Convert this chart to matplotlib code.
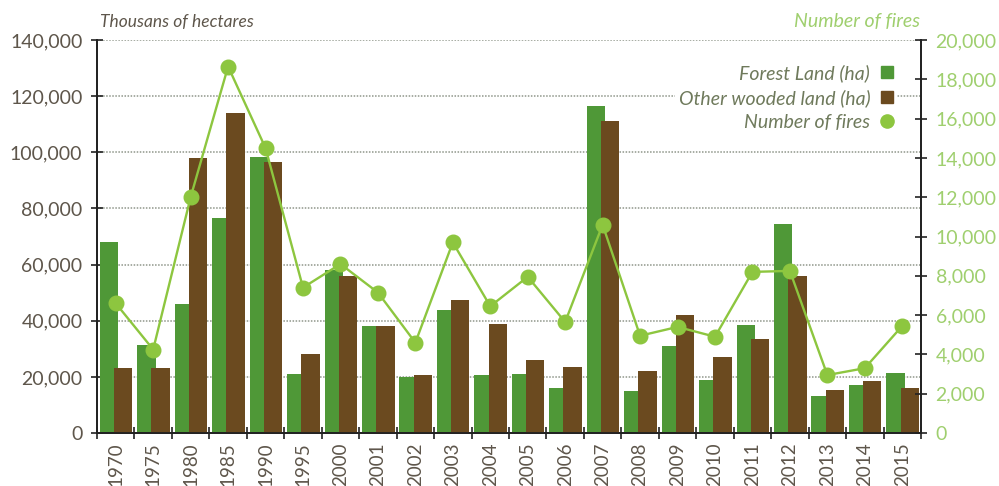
import numpy as np
import matplotlib
matplotlib.use("Agg")
import matplotlib.pyplot as plt
from matplotlib.lines import Line2D
from matplotlib.ticker import FuncFormatter, FixedLocator

plt.rcParams['font.family'] = ['Lato', 'DejaVu Sans']

years = ["1970", "1975", "1980", "1985", "1990", "1995", "2000", "2001", "2002",
         "2003", "2004", "2005", "2006", "2007", "2008", "2009", "2010", "2011",
         "2012", "2013", "2014", "2015"]
forest_land = [68000, 31500, 46000, 76500, 98500, 21000, 58000, 38000, 20000,
               44000, 20800, 21000, 16000, 116500, 15000, 31000, 19000, 38500,
               74500, 13300, 17100, 21500]
other_wooded = [23000, 23000, 98000, 114000, 96500, 28000, 56000, 38000, 20500,
                47500, 39000, 26000, 23400, 111000, 22000, 42000, 27000, 33500,
                56000, 15500, 18500, 16000]
num_fires = [6600, 4250, 12000, 18650, 14500, 7400, 8600, 7150, 4600,
             9700, 6450, 7950, 5650, 10600, 4950, 5400, 4900, 8200,
             8250, 2950, 3300, 5450]

GREEN = "#4f9837"
BROWN = "#6b4a1f"
LIGHT = "#8dc63f"
AXIS_TXT = "#5e564b"
RIGHT_TXT = "#9fcf6e"
LEG_TXT = "#6f7a5c"

fig = plt.figure(figsize=(9.99, 4.86), dpi=100)
ax = fig.add_axes([0.0971, 0.109, 0.8248, 0.8087])
ax2 = ax.twinx()

x = np.arange(len(years))
w = 0.49
ax.bar(x - 0.18, forest_land, width=w, color=GREEN, zorder=2)
ax.bar(x + 0.20, other_wooded, width=w, color=BROWN, zorder=3)

ax2.plot(x, num_fires, color=LIGHT, lw=1.7, marker='o', ms=10.5,
         markerfacecolor=LIGHT, markeredgecolor=LIGHT, zorder=4)

ax.set_xlim(-0.5, len(years) - 0.5)
ax.set_ylim(0, 140000)
ax2.set_ylim(0, 20000)
ax.set_yticks(np.arange(0, 140001, 20000))
ax2.set_yticks(np.arange(0, 20001, 2000))
fmt = FuncFormatter(lambda v, p: f"{int(v):,}")
ax.yaxis.set_major_formatter(fmt)
ax2.yaxis.set_major_formatter(fmt)

ax.set_xticks(x)
ax.set_xticklabels(years, rotation=90, fontsize=13.5, color=AXIS_TXT)
ax.xaxis.set_minor_locator(FixedLocator(np.arange(-0.5, len(years), 1)))
ax.tick_params(axis='x', which='major', length=0, pad=7)
ax.tick_params(axis='x', which='minor', direction='inout', length=9, width=1.2, color='#222')

ax.tick_params(axis='y', direction='inout', length=9, width=1.2, color='#222',
               labelsize=14, labelcolor=AXIS_TXT, pad=6)
ax2.tick_params(axis='y', direction='inout', length=9, width=1.2, color='#222',
                labelsize=14, labelcolor=RIGHT_TXT, pad=6)

ax.yaxis.grid(True, linestyle=(0, (1, 1)), color='#8f968a', lw=1.1, zorder=0)
ax.set_axisbelow(True)

for a in (ax, ax2):
    a.spines['top'].set_visible(False)
    for s in ('left', 'right', 'bottom'):
        a.spines[s].set_color('#222')
        a.spines[s].set_linewidth(1.3)

fig.text(0.1, 0.955, "Thousans of hectares", fontsize=12.5, style='italic',
         color=AXIS_TXT, ha='left', va='center')
fig.text(0.921, 0.955, "Number of fires", fontsize=14, style='italic',
         color=RIGHT_TXT, ha='right', va='center')

handles = [
    Line2D([], [], ls='none', marker='s', ms=9, color=GREEN),
    Line2D([], [], ls='none', marker='s', ms=9, color=BROWN),
    Line2D([], [], ls='none', marker='o', ms=9.5, color=LIGHT),
]
labels = ["Forest Land (ha)", "Other wooded land (ha)", "Number of fires"]
leg = ax2.legend(handles, labels, loc='upper right', bbox_to_anchor=(0.908, 0.896),
                 bbox_transform=fig.transFigure, markerfirst=False, frameon=True,
                 handlelength=0.7, handletextpad=0.5, labelspacing=0.35,
                 borderpad=0.2, prop={'style': 'italic', 'size': 14})
leg.get_frame().set_facecolor('white')
leg.get_frame().set_edgecolor('none')
leg.get_frame().set_alpha(1)
for t in leg.get_texts():
    t.set_color(LEG_TXT)
    t.set_ha('right')

fig.savefig("out.png", dpi=100, facecolor='white')
